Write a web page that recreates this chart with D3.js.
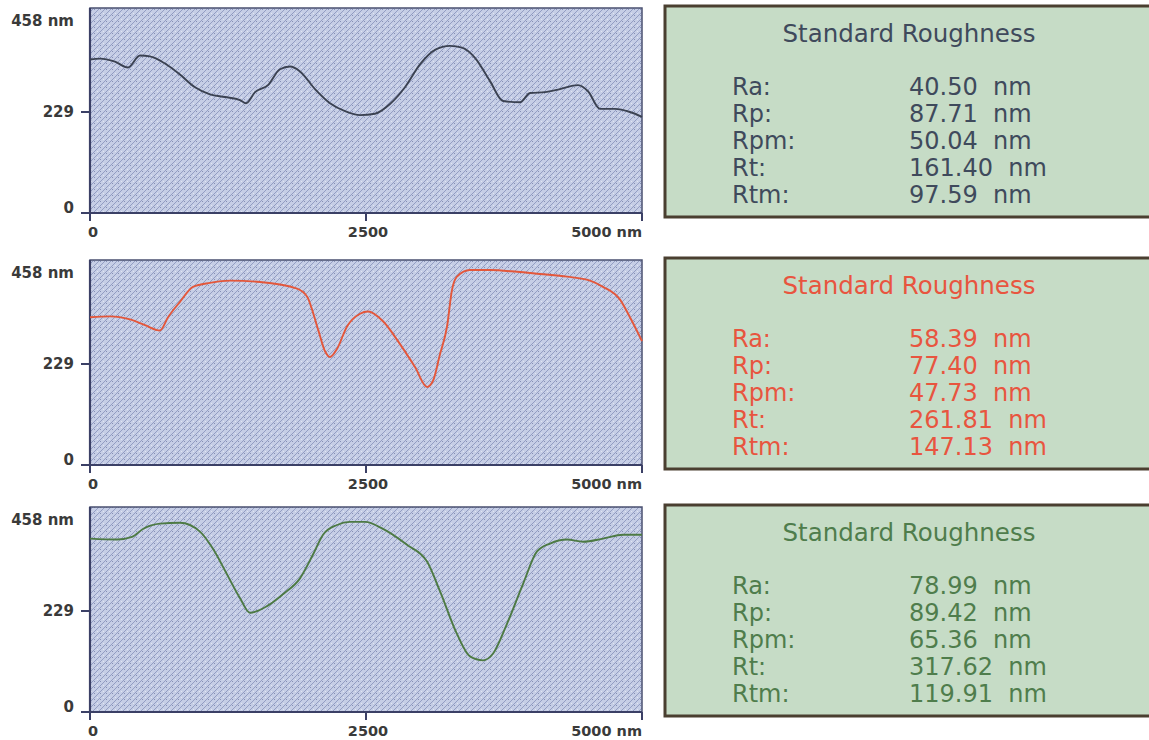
<!DOCTYPE html>
<html>
<head>
<meta charset="utf-8">
<script src="https://cdn.jsdelivr.net/npm/d3@7"></script>
<style>
  body { margin: 0; background: #fff; }
  svg { display: block; }
  .stat { white-space: pre; }
</style>
</head>
<body>
<svg id="chart" width="1149" height="740"></svg>
<script>
'use strict';

// surface profiles, [position nm, height nm]
const profileA = [
  [0, 348], [91, 350], [226, 343], [344, 330], [453, 357], [543, 355], [679, 339], [815, 314],
  [951, 285], [1087, 269], [1223, 263], [1359, 256], [1413, 249], [1495, 274], [1612, 290],
  [1721, 326], [1812, 332], [1902, 321], [2038, 281], [2174, 249], [2310, 231], [2446, 222],
  [2581, 225], [2717, 247], [2853, 285], [2989, 337], [3125, 370], [3261, 379], [3370, 375],
  [3487, 352], [3623, 299], [3741, 254], [3895, 251], [3986, 272], [4121, 274], [4257, 281],
  [4420, 290], [4511, 276], [4620, 236], [4755, 236], [4891, 229], [5000, 218]
];
const profileB = [
  [0, 335], [181, 337], [362, 330], [498, 317], [634, 305], [707, 335], [815, 370], [933, 404],
  [1087, 413], [1268, 418], [1540, 415], [1875, 400], [1966, 382], [2065, 308], [2129, 258],
  [2174, 245], [2237, 263], [2328, 314], [2446, 343], [2518, 348], [2654, 326], [2808, 274],
  [2944, 222], [3053, 177], [3107, 191], [3170, 251], [3234, 314], [3279, 397], [3324, 427],
  [3442, 442], [3623, 442], [3868, 438], [4076, 433], [4321, 427], [4529, 418], [4647, 404],
  [4801, 375], [4891, 335], [5000, 281]
];
const profileC = [
  [0, 393], [245, 391], [380, 397], [480, 415], [634, 427], [815, 429], [996, 409], [1114, 370],
  [1241, 312], [1359, 258], [1449, 225], [1603, 240], [1748, 267], [1902, 303], [2020, 357],
  [2111, 402], [2237, 424], [2355, 431], [2491, 431], [2654, 415], [2871, 379], [3053, 341],
  [3170, 274], [3324, 177], [3442, 126], [3560, 117], [3650, 132], [3777, 200], [3922, 290],
  [4049, 364], [4167, 382], [4321, 391], [4466, 386], [4647, 393], [4828, 402], [5000, 402]
];

const xTicks = [0, 2500, 5000];
const xTickLabels = ['0', '2500', '5000 nm'];
const yTicks = [0, 229, 458];
const yTickLabels = ['0', '229', '458 nm'];

const statNames = ['Ra:', 'Rp:', 'Rpm:', 'Rt:', 'Rtm:'];
const statsA = ['40.50', '87.71', '50.04', '161.40', '97.59'];
const statsB = ['58.39', '77.40', '47.73', '261.81', '147.13'];
const statsC = ['78.99', '89.42', '65.36', '317.62', '119.91'];

const panels = [
  {profile: profileA, stats: statsA, color: '#3b4252', text: '#3f4a5c', top: 8},
  {profile: profileB, stats: statsB, color: '#e3573b', text: '#e8553f', top: 260},
  {profile: profileC, stats: statsC, color: '#4d7a44', text: '#4f7d4c', top: 507}
];

const svg = d3.select('#chart');

// hatched blue-grey fill of the plot areas
const defs = svg.append('defs');
const pat = defs.append('pattern').attr('id', 'mesh')
  .attr('width', 6).attr('height', 6).attr('patternUnits', 'userSpaceOnUse');
pat.append('rect').attr('width', 6).attr('height', 6).attr('fill', '#c6cee6');
pat.append('path').attr('d', 'M0,6L6,0').attr('stroke', '#939dc2').attr('stroke-width', 1);
pat.append('rect').attr('x', 1).attr('y', 1).attr('width', 1).attr('height', 1).attr('fill', '#e2e6f2');
pat.append('rect').attr('x', 4).attr('y', 3).attr('width', 1).attr('height', 1).attr('fill', '#8690b6');

const plotLeft = 90, plotRight = 642, plotH = 205;
const x = d3.scaleLinear().domain([0, 5000]).range([plotLeft, plotRight]);

panels.forEach(p => {
  const bottom = p.top + plotH;
  const y = d3.scaleLinear().domain([0, 458]).range([bottom, p.top + 3]);
  const g = svg.append('g');

  g.append('rect')
    .attr('x', plotLeft).attr('y', p.top)
    .attr('width', plotRight - plotLeft).attr('height', plotH)
    .attr('fill', 'url(#mesh)')
    .attr('stroke', '#4a5070').attr('stroke-width', 1.5);

  // heavier left and bottom axis lines
  g.append('path')
    .attr('d', `M${plotLeft},${p.top}V${bottom}H${plotRight}`)
    .attr('fill', 'none').attr('stroke', '#3b4066').attr('stroke-width', 2.2);

  const line = d3.line().x(d => x(d[0])).y(d => y(d[1])).curve(d3.curveMonotoneX);
  g.append('path').datum(p.profile)
    .attr('d', line)
    .attr('fill', 'none').attr('stroke', p.color).attr('stroke-width', 1.9);

  // x ticks and labels
  xTicks.forEach((t, i) => {
    g.append('line').attr('x1', x(t)).attr('x2', x(t))
      .attr('y1', bottom).attr('y2', bottom + 8)
      .attr('stroke', '#3b4066').attr('stroke-width', 2);
    g.append('text')
      .attr('x', i === 0 ? x(t) - 2 : i === 2 ? x(t) : x(t) + 2)
      .attr('y', bottom + 19).attr('dy', '0.35em')
      .attr('text-anchor', i === 0 ? 'start' : i === 2 ? 'end' : 'middle')
      .attr('font-family', 'DejaVu Sans').attr('font-weight', 'bold')
      .attr('font-size', 14.5).attr('fill', '#3a3a3a')
      .text(xTickLabels[i]);
  });

  // y ticks and labels
  yTicks.forEach((t, i) => {
    if (i < 2) {
      g.append('line').attr('x1', plotLeft - 9).attr('x2', plotLeft)
        .attr('y1', y(t)).attr('y2', y(t))
        .attr('stroke', '#3b4066').attr('stroke-width', 2);
    }
    const ly = i === 0 ? y(t) - 5 : i === 2 ? p.top + 13 : y(t);
    g.append('text')
      .attr('x', 74).attr('y', ly).attr('dy', '0.35em')
      .attr('text-anchor', 'end')
      .attr('font-family', 'DejaVu Sans').attr('font-weight', 'bold')
      .attr('font-size', 15).attr('fill', '#3a3a3a')
      .text(yTickLabels[i]);
  });

  // roughness box
  const bx = 665, by = p.top - 2;
  const box = svg.append('g');
  box.append('rect')
    .attr('x', bx).attr('y', by).attr('width', 500).attr('height', 211)
    .attr('fill', '#c6dcc6').attr('stroke', '#4a3f30').attr('stroke-width', 3);
  box.append('text')
    .attr('x', 909).attr('y', by + 27).attr('dy', '0.35em')
    .attr('text-anchor', 'middle')
    .attr('font-family', 'DejaVu Sans').attr('font-size', 24.5)
    .attr('fill', p.text)
    .text('Standard Roughness');
  statNames.forEach((name, i) => {
    const ry = by + 81 + i * 26.8;
    box.append('text')
      .attr('x', 732).attr('y', ry).attr('dy', '0.35em')
      .attr('font-family', 'DejaVu Sans').attr('font-size', 24)
      .attr('fill', p.text)
      .text(name);
    box.append('text').attr('class', 'stat')
      .attr('x', 909).attr('y', ry).attr('dy', '0.35em')
      .attr('font-family', 'DejaVu Sans').attr('font-size', 24)
      .attr('fill', p.text)
      .text(p.stats[i] + '  nm');
  });
});
</script>
</body>
</html>
